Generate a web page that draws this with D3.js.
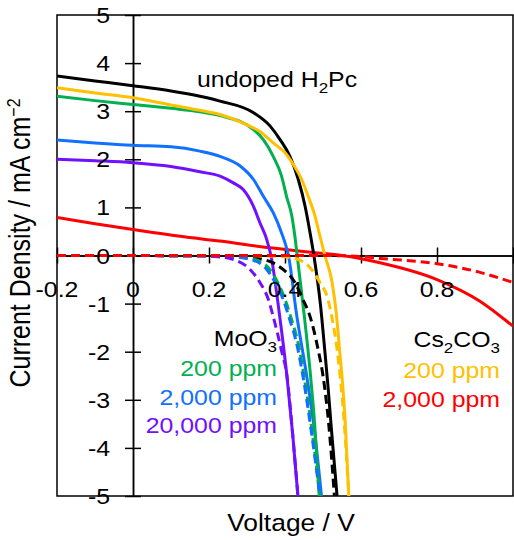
<!DOCTYPE html>
<html>
<head>
<meta charset="utf-8">
<script src="https://cdn.jsdelivr.net/npm/d3@7"></script>
<style>
body { margin: 0; background: #fff; }
svg { display: block; }
text { font-family: "Liberation Sans", Arial, sans-serif; fill: #000; }
</style>
</head>
<body>
<div id="chart"></div>
<script>
// data: [voltage V, current density mA cm-2]
// light (solid) curves
const undopedLight = [[-0.2,3.73],[-0.1,3.63],[0,3.53],[0.1,3.42],[0.176,3.31],[0.229,3.21],[0.317,2.97],[0.361,2.69],[0.387,2.41],[0.413,2.06],[0.435,1.58],[0.453,1.02],[0.466,0.47],[0.476,0],[0.493,-1],[0.505,-2],[0.514,-2.8],[0.522,-3.6],[0.537,-5]];
const cs200Light = [[-0.2,3.49],[-0.1,3.38],[0,3.28],[0.1,3.13],[0.176,3.02],[0.229,2.93],[0.299,2.72],[0.334,2.58],[0.369,2.34],[0.404,2.1],[0.422,1.89],[0.444,1.58],[0.461,1.23],[0.479,0.82],[0.492,0.4],[0.505,0],[0.524,-0.56],[0.535,-1.2],[0.544,-2],[0.551,-2.6],[0.558,-3.4],[0.568,-5]];
const mo200Light = [[-0.2,3.31],[-0.1,3.22],[0,3.14],[0.1,3.06],[0.176,2.99],[0.229,2.91],[0.317,2.62],[0.343,2.41],[0.369,2.06],[0.391,1.65],[0.404,1.23],[0.418,0.82],[0.426,0.4],[0.432,0],[0.45,-1.2],[0.466,-2.4],[0.478,-3.5],[0.49,-5]];
const mo2000Light = [[-0.2,2.4],[-0.1,2.34],[0,2.29],[0.1,2.26],[0.176,2.17],[0.229,2.06],[0.282,1.86],[0.317,1.58],[0.343,1.23],[0.369,0.89],[0.391,0.47],[0.404,0.16],[0.409,0],[0.43,-1.2],[0.457,-2.5],[0.477,-3.6],[0.496,-5]];
const mo20000Light = [[-0.2,2.0],[-0.1,1.97],[0,1.93],[0.1,1.85],[0.176,1.74],[0.229,1.65],[0.264,1.51],[0.29,1.37],[0.317,1.02],[0.334,0.68],[0.352,0.33],[0.363,0],[0.385,-1.2],[0.405,-2.5],[0.42,-3.7],[0.434,-5]];
const cs2000Light = [[-0.2,0.79],[-0.1,0.66],[0,0.54],[0.124,0.4],[0.229,0.3],[0.361,0.16],[0.474,0.06],[0.55,0],[0.65,-0.15],[0.8,-0.5],[0.913,-0.95],[1.0,-1.47]];

// dark (dashed) curves
const undopedDark = [[-0.2,0],[0.2,-0.005],[0.28,-0.02],[0.316,-0.04],[0.342,-0.08],[0.37,-0.16],[0.395,-0.29],[0.426,-0.56],[0.447,-0.91],[0.466,-1.27],[0.487,-1.95],[0.5,-2.5],[0.515,-3.5],[0.53,-5]];
const cs200Dark = [[-0.2,0],[0.3,-0.005],[0.39,-0.02],[0.44,-0.1],[0.47,-0.29],[0.492,-0.56],[0.513,-0.91],[0.523,-1.27],[0.537,-1.95],[0.545,-2.5],[0.556,-3.5],[0.568,-5]];
const mo200Dark = [[-0.2,0],[0.2,-0.005],[0.27,-0.02],[0.32,-0.08],[0.36,-0.29],[0.381,-0.56],[0.4,-0.91],[0.415,-1.27],[0.438,-1.95],[0.45,-2.5],[0.472,-3.7],[0.492,-5]];
const mo2000Dark = [[-0.2,0],[0.18,-0.005],[0.25,-0.02],[0.308,-0.08],[0.352,-0.29],[0.374,-0.56],[0.395,-0.91],[0.41,-1.27],[0.434,-1.95],[0.447,-2.5],[0.47,-3.7],[0.492,-5]];
const mo20000Dark = [[-0.2,0],[0.15,-0.005],[0.229,-0.03],[0.263,-0.08],[0.308,-0.29],[0.334,-0.56],[0.356,-0.91],[0.369,-1.27],[0.39,-1.95],[0.405,-2.5],[0.42,-3.7],[0.434,-5]];
const cs2000Dark = [[-0.2,0],[0.5,0],[0.6,-0.02],[0.65,-0.06],[0.8,-0.17],[0.913,-0.35],[1.0,-0.56]];

const xTicks = [-0.2, 0, 0.2, 0.4, 0.6, 0.8, 1.0];
const xTickLabels = ["-0.2", "0", "0.2", "0.4", "0.6", "0.8"];
const yTicks = [-5, -4, -3, -2, -1, 0, 1, 2, 3, 4, 5];
const yTickLabels = ["-5", "-4", "-3", "-2", "-1", "0", "1", "2", "3", "4", "5"];

const moLabels = ["200 ppm", "2,000 ppm", "20,000 ppm"];
const csLabels = ["200 ppm", "2,000 ppm"];

const colors = { undoped: "#000000", cs200: "#FFC000", mo200: "#00B050", mo2000: "#1070FF", mo20000: "#7010FF", cs2000: "#FF0000" };

function chart() {
  const W = 514, H = 540;
  const margin = { top: 15, right: 1, bottom: 44, left: 57 };
  const width = W - margin.left - margin.right;
  const height = H - margin.top - margin.bottom;
  const sx = 1.13; // text in the figure is a bit wider than tall

  const svg = d3.select("#chart").append("svg")
      .attr("width", W)
      .attr("height", H);

  const g = svg.append("g")
      .attr("transform", `translate(${margin.left},${margin.top})`);

  const x = d3.scaleLinear().domain([-0.2, 1.0]).range([0, width]);
  const y = d3.scaleLinear().domain([-5, 5]).range([height, 0]);

  g.append("clipPath").attr("id", "clip")
    .append("rect").attr("width", width).attr("height", height);

  // curves
  const line = d3.line()
      .x(d => x(d[0]))
      .y(d => y(d[1]))
      .curve(d3.curveMonotoneX);

  const series = [
    { data: cs2000Light, color: colors.cs2000, dash: null },
    { data: mo20000Light, color: colors.mo20000, dash: null },
    { data: mo2000Light, color: colors.mo2000, dash: null },
    { data: mo200Light, color: colors.mo200, dash: null },
    { data: undopedLight, color: colors.undoped, dash: null },
    { data: cs200Light, color: colors.cs200, dash: null },
    { data: undopedDark, color: colors.undoped, dash: "9,5" },
    { data: cs200Dark, color: colors.cs200, dash: "9,5" },
    { data: mo200Dark, color: colors.mo200, dash: "9,5" },
    { data: mo2000Dark, color: colors.mo2000, dash: "9,5" },
    { data: mo20000Dark, color: colors.mo20000, dash: "9,5" },
    { data: cs2000Dark, color: colors.cs2000, dash: "9,5" }
  ];

  // frame
  g.append("rect")
      .attr("width", width)
      .attr("height", height)
      .attr("fill", "none")
      .attr("stroke", "#000")
      .attr("stroke-width", 1.5);

  // axes through zero, ticks crossing both sides
  const yAxisG = g.append("g").attr("transform", `translate(${x(0)},0)`);
  yAxisG.call(d3.axisLeft(y).tickValues(yTicks).tickSize(8).tickSizeOuter(0).tickFormat(""));
  yAxisG.append("g").call(d3.axisRight(y).tickValues(yTicks).tickSize(8).tickSizeOuter(0).tickFormat(""));
  const xAxisG = g.append("g").attr("transform", `translate(0,${y(0)})`);
  xAxisG.call(d3.axisBottom(x).tickValues(xTicks).tickSize(8).tickSizeOuter(0).tickFormat(""));
  xAxisG.append("g").call(d3.axisTop(x).tickValues(xTicks).tickSize(8).tickSizeOuter(0).tickFormat(""));
  g.selectAll(".domain, .tick line").attr("stroke", "#000").attr("stroke-width", 1.5);

  g.append("g").attr("clip-path", "url(#clip)")
    .selectAll("path")
    .data(series)
    .enter()
    .append("path")
      .attr("d", d => line(d.data))
      .attr("fill", "none")
      .attr("stroke", d => d.color)
      .attr("stroke-width", 3)
      .attr("stroke-dasharray", d => d.dash);

  // tick labels
  g.selectAll(".ylab")
    .data(yTicks)
    .enter()
    .append("text")
      .attr("class", "ylab")
      .attr("transform", d => `translate(${x(0) - 23},${y(d) + 8}) scale(${sx},1)`)
      .attr("text-anchor", "end")
      .style("font-size", "22px")
      .text((d, i) => yTickLabels[i]);

  g.selectAll(".xlab")
    .data(xTickLabels)
    .enter()
    .append("text")
      .attr("class", "xlab")
      .attr("transform", (d, i) => `translate(${x(xTicks[i])},${y(0) + 41}) scale(${sx},1)`)
      .attr("text-anchor", "middle")
      .style("font-size", "22px")
      .text(d => d);

  // axis titles
  svg.append("text")
      .attr("transform", `translate(${margin.left + width / 2 + 6},${H - 9}) scale(1.1,1)`)
      .attr("text-anchor", "middle")
      .style("font-size", "24px")
      .text("Voltage / V");

  const yt = svg.append("text")
      .attr("transform", `translate(30,243) scale(1.15,1) rotate(-90)`)
      .attr("text-anchor", "middle")
      .style("font-size", "25px");
  yt.append("tspan").text("Current  Density / mA cm");
  yt.append("tspan").attr("dy", -9).style("font-size", "16px").text("\u22122");

  // annotations
  const und = svg.append("text")
      .attr("transform", `translate(197,87) scale(${sx},1)`)
      .style("font-size", "22px");
  und.append("tspan").text("undoped H");
  und.append("tspan").attr("dy", 6).style("font-size", "15px").text("2");
  und.append("tspan").attr("dy", -6).text("Pc");

  const mo = svg.append("text")
      .attr("transform", `translate(277,346) scale(${sx},1)`)
      .attr("text-anchor", "end")
      .style("font-size", "22px");
  mo.append("tspan").text("MoO");
  mo.append("tspan").attr("dy", 6).style("font-size", "15px").text("3");

  const moColors = [colors.mo200, colors.mo2000, colors.mo20000];
  svg.selectAll(".molab")
    .data(moLabels)
    .enter()
    .append("text")
      .attr("class", "molab")
      .attr("transform", (d, i) => `translate(277,${376 + i * 28.5}) scale(${sx},1)`)
      .attr("text-anchor", "end")
      .style("font-size", "22px")
      .style("fill", (d, i) => moColors[i])
      .text(d => d);

  const cs = svg.append("text")
      .attr("transform", `translate(500,347) scale(${sx},1)`)
      .attr("text-anchor", "end")
      .style("font-size", "22px");
  cs.append("tspan").text("Cs");
  cs.append("tspan").attr("dy", 6).style("font-size", "15px").text("2");
  cs.append("tspan").attr("dy", -6).text("CO");
  cs.append("tspan").attr("dy", 6).style("font-size", "15px").text("3");

  const csColors = [colors.cs200, colors.cs2000];
  svg.selectAll(".cslab")
    .data(csLabels)
    .enter()
    .append("text")
      .attr("class", "cslab")
      .attr("transform", (d, i) => `translate(500,${378 + i * 29}) scale(${sx},1)`)
      .attr("text-anchor", "end")
      .style("font-size", "22px")
      .style("fill", (d, i) => csColors[i])
      .text(d => d);
}
chart();
</script>
</body>
</html>
